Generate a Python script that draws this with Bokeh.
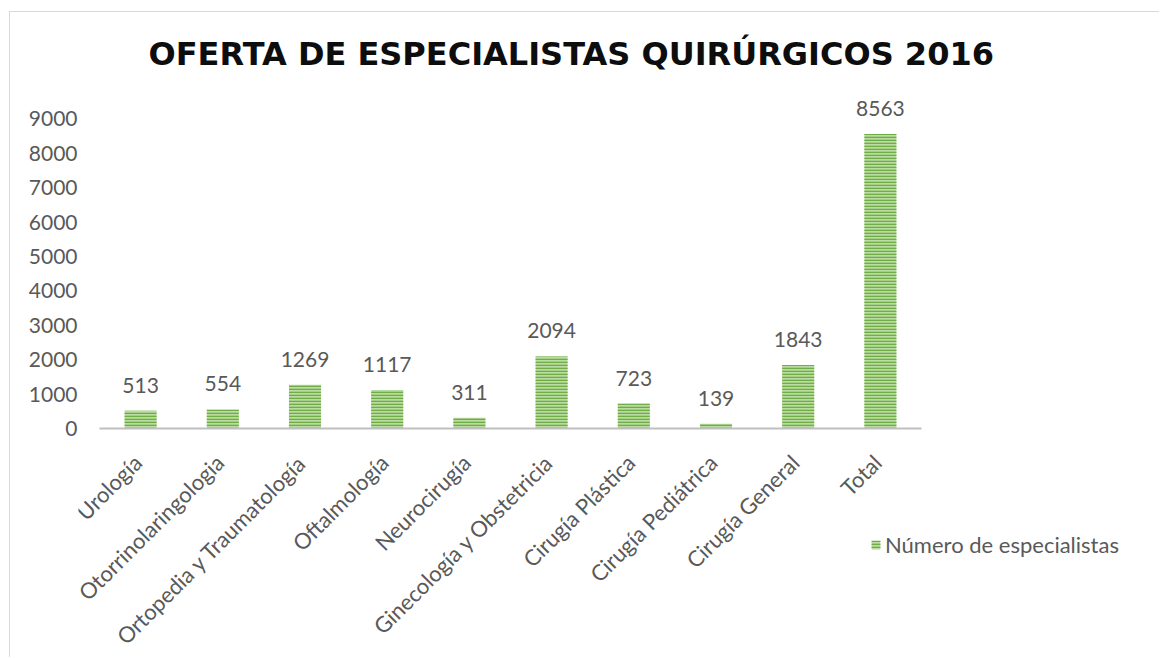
import math
from bokeh.plotting import figure
from bokeh.models import (ColumnDataSource, FixedTicker, Legend, LegendItem, LabelSet, Title,
                          Range1d, LinearAxis)
from bokeh.core.properties import value
from bokeh.embed import file_html
from bokeh.resources import INLINE

categories = ["Urología", "Otorrinolaringologia", "Ortopedia y Traumatología", "Oftalmología",
              "Neurocirugía", "Ginecología y Obstetricia", "Cirugía Plástica", "Cirugía Pediátrica",
              "Cirugía General", "Total"]
values = [513, 554, 1269, 1117, 311, 2094, 723, 139, 1843, 8563]
y_ticks = [0, 1000, 2000, 3000, 4000, 5000, 6000, 7000, 8000, 9000]
series_name = "Número de especialistas"
title_text = "OFERTA DE ESPECIALISTAS QUIRÚRGICOS 2016"

FONT = "Lato"
TXT = "#595959"

# each category occupies one unit slot on the x scale, bar at the slot centre
centers = [i + 0.5 for i in range(len(categories))]
src = ColumnDataSource(dict(x=centers, cat=categories, val=values,
                            lab=[str(v) for v in values]))

p = figure(x_range=Range1d(-0.2555, 12.859), y_range=Range1d(-6512, 9971),
           width=1150, height=646, output_backend="svg", toolbar_location=None,
           x_axis_type=None, y_axis_type=None,
           min_border_left=68, min_border_right=4, min_border_top=73, min_border_bottom=6)
p.styles = {"margin-left": "9px", "margin-top": "11px",
            "border-top": "1px solid #d9d9d9", "border-left": "1px solid #d9d9d9"}
p.outline_line_color = None
p.grid.visible = False

t = Title(text=title_text, align="left", text_font="DejaVu Sans", text_font_size="32px",
          text_font_style="bold", text_color="#0d0d0d", offset=70, standoff=25)
p.add_layout(t, "above")

# value axis on the left of the plotting area
yaxis = LinearAxis(ticker=FixedTicker(ticks=y_ticks),
                   axis_line_color=None, major_tick_line_color=None,
                   minor_tick_line_color=None, major_tick_out=0, major_tick_in=0,
                   major_label_standoff=1, major_label_text_font=FONT,
                   major_label_text_font_size="21px", major_label_text_color=TXT)
p.add_layout(yaxis, "left")

# category axis line at value 0, spanning the category band
xaxis = LinearAxis(ticker=FixedTicker(ticks=[]), fixed_location=0,
                   bounds=(0, len(categories)), axis_line_color="#bfbfbf", axis_line_width=2,
                   major_tick_line_color=None, minor_tick_line_color=None,
                   major_tick_out=0, major_tick_in=0, major_label_standoff=0)
p.add_layout(xaxis, "below")

r = p.vbar(x="x", top="val", width=0.39, source=src,
           fill_color="#b9dca0", line_color=None,
           hatch_pattern="horizontal_line", hatch_color="#70ad47",
           hatch_scale=3, hatch_weight=1.6)

labels = LabelSet(x="x", y="val", text="lab", source=src, text_align="center",
                  text_baseline="alphabetic", y_offset=18, text_font=value(FONT),
                  text_font_size=value("21px"), text_color=TXT)
p.add_layout(labels)

# rotated category labels under the axis
p.text(x="x", y=0, text="cat", source=src, angle=math.pi / 4, text_align="right",
       text_baseline="alphabetic", x_offset=-3, y_offset=30, text_font=value(FONT),
       text_font_size=value("22px"), text_color=TXT)

legend = Legend(items=[LegendItem(label=series_name, renderers=[r])],
                location=(792, 94), border_line_color=None, background_fill_alpha=0,
                label_text_font=FONT, label_text_font_size="22px", label_text_color=TXT,
                glyph_width=11, glyph_height=11, label_standoff=4, padding=0, margin=0)
p.add_layout(legend, "center")

open("out.html", "w").write(file_html(p, INLINE))
